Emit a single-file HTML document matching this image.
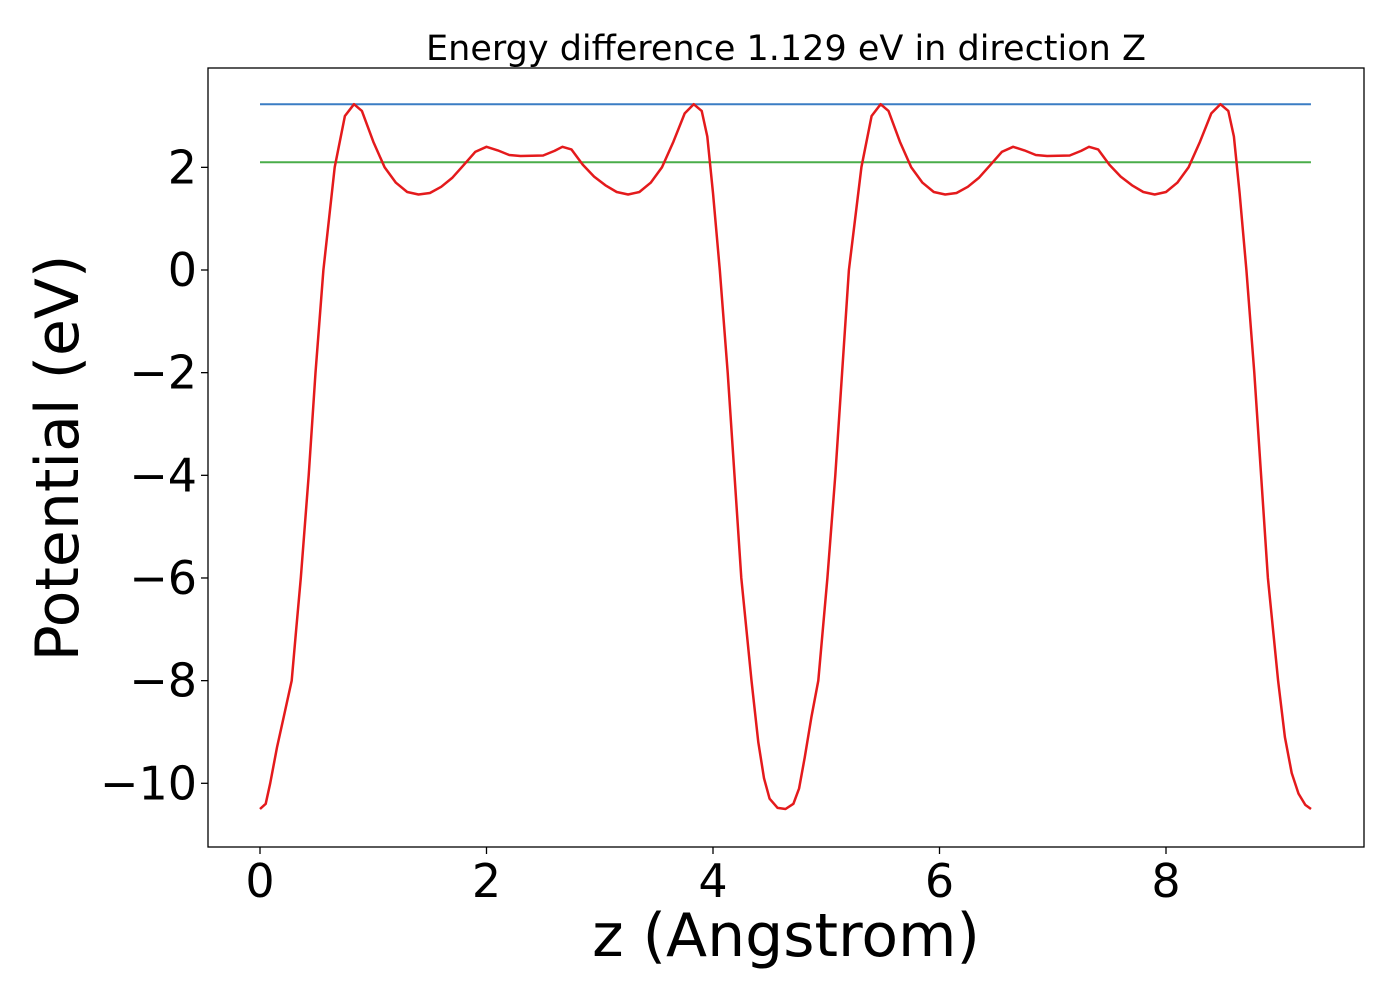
<!DOCTYPE html>
<html><head><meta charset="utf-8"><style>
body{margin:0;background:#fff}
svg text{font-family:"DejaVu Sans","Liberation Sans",sans-serif;fill:#000}
</style></head><body>
<svg id="chart" width="1400" height="1000" xmlns="http://www.w3.org/2000/svg">
<rect width="1400" height="1000" fill="#fff"/>
<text x="786" y="60" font-size="35" text-anchor="middle">Energy difference 1.129 eV in direction Z</text>
<g id="plot"></g>
<rect x="208" y="68" width="1156" height="779" fill="none" stroke="#000" stroke-width="1.3"/>
<text x="786" y="956" font-size="60" text-anchor="middle">z (Angstrom)</text>
<text transform="translate(78,458) rotate(-90)" font-size="60" text-anchor="middle">Potential (eV)</text>
</svg>
<script>
const xs=[0,0.05,0.09,0.15,0.21,0.28,0.32,0.36,0.43,0.49,0.56,0.66,0.75,0.83,0.9,1.0,1.1,1.2,1.3,1.4,1.5,1.6,1.7,1.8,1.9,2.0,2.1,2.2,2.3,2.5,2.6,2.67,2.75,2.85,2.95,3.05,3.15,3.25,3.35,3.45,3.55,3.65,3.75,3.83,3.9,3.95,4.0,4.06,4.13,4.19,4.25,4.34,4.4,4.45,4.5,4.57,4.64,4.71,4.76,4.81,4.87,4.93,5.01,5.08,5.14,5.2,5.31,5.4,5.48,5.55,5.65,5.75,5.85,5.95,6.05,6.15,6.25,6.35,6.45,6.55,6.65,6.75,6.85,6.95,7.15,7.25,7.32,7.4,7.5,7.6,7.7,7.8,7.9,8.0,8.1,8.2,8.3,8.4,8.48,8.55,8.6,8.65,8.71,8.78,8.84,8.9,8.99,9.05,9.11,9.17,9.23,9.28];
const potential=[-10.5,-10.4,-10,-9.3,-8.7,-8,-7,-6,-4,-2,0,2,3,3.23,3.1,2.5,2.0,1.7,1.52,1.47,1.5,1.62,1.8,2.05,2.3,2.4,2.33,2.24,2.22,2.23,2.32,2.4,2.35,2.05,1.82,1.65,1.52,1.47,1.52,1.7,2.0,2.5,3.05,3.23,3.1,2.6,1.5,0,-2,-4,-6,-8,-9.2,-9.9,-10.3,-10.48,-10.5,-10.4,-10.1,-9.5,-8.7,-8,-6,-4,-2,0,2,3,3.23,3.1,2.5,2.0,1.7,1.52,1.47,1.5,1.62,1.8,2.05,2.3,2.4,2.33,2.24,2.22,2.23,2.32,2.4,2.35,2.05,1.82,1.65,1.52,1.47,1.52,1.7,2.0,2.5,3.05,3.23,3.1,2.6,1.5,0,-2,-4,-6,-8,-9.1,-9.8,-10.2,-10.42,-10.5];
const refLevels=[3.23,2.1];
const refColors=["#3a7dc4","#4aad4a"];
const xTicks=[0,2,4,6,8];
const yTicks=[2,0,-2,-4,-6,-8,-10];
const X=v=>260+v*113.25, Y=v=>270-v*51.33;
const NS="http://www.w3.org/2000/svg", g=document.getElementById('plot');
function mk(t,a){const e=document.createElementNS(NS,t);for(const k in a)e.setAttribute(k,a[k]);g.appendChild(e);return e;}
refLevels.forEach((lv,i)=>{
 const l=mk('line',{x1:X(xs[0]),x2:X(xs[xs.length-1]),y1:Y(lv),y2:Y(lv),stroke:refColors[i],'stroke-width':2});
 
 
});
const p=mk('path',{d:xs.map((x,i)=>(i?'L':'M')+X(x).toFixed(1)+','+Y(potential[i]).toFixed(1)).join(''),fill:'none',stroke:'#e41a1c','stroke-width':2.5,'stroke-linejoin':'round'});


xTicks.forEach(t=>{
 const l=mk('line',{x1:X(t),x2:X(t),y1:847,y2:854,stroke:'#000','stroke-width':1.3});
 
 
 const s=mk('text',{x:X(t),y:897,'font-size':46,'text-anchor':'middle'});s.textContent=t;
 
 
});
yTicks.forEach(t=>{
 const l=mk('line',{x1:201,x2:208,y1:Y(t),y2:Y(t),stroke:'#000','stroke-width':1.3});
 
 
 const s=mk('text',{x:197,y:Y(t)+16,'font-size':46,'text-anchor':'end'});s.textContent=t<0?'\u2212'+(-t):t;
 
 
});
</script>
</body></html>
